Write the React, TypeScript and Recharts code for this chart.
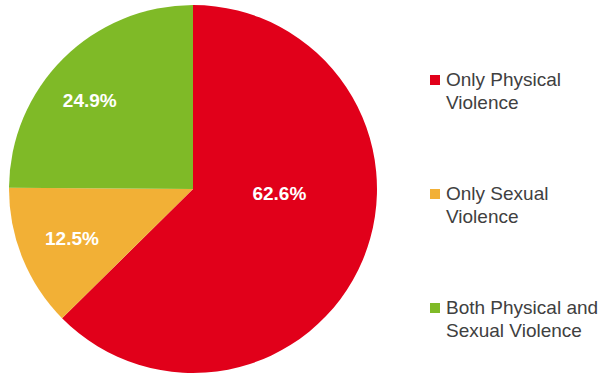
import { PieChart, Pie, Cell, Legend } from "recharts";

const NAMES = ["Only Physical Violence", "Only Sexual Violence", "Both Physical and Sexual Violence"];
const VALUES = [62.6, 12.5, 24.9];
const COLORS = ["#E1001A", "#F2B036", "#7FBA27"];
// label placement per slice: [angle in degrees (null = slice middle), fraction of radius]
const LABEL_PLACE: [number | null, number][] = [[-2.7, 0.47], [null, 0.71], [139.3, 0.74]];

const data = NAMES.map((name, i) => ({ name, value: VALUES[i] }));

const RAD = Math.PI / 180;
const FONT = "'Liberation Sans', Arial, sans-serif";

function SliceLabel(props: any) {
  const { cx, cy, midAngle, outerRadius, index, value } = props;
  const [ang, frac] = LABEL_PLACE[index];
  const a = ang ?? midAngle;
  const r = outerRadius * frac;
  const x = cx + r * Math.cos(-a * RAD);
  const y = cy + r * Math.sin(-a * RAD);
  return (
    <text x={x} y={y} fill="#fff" fontSize={19} fontWeight="bold" fontFamily={FONT}
      textAnchor="middle" dominantBaseline="central">
      {`${value.toFixed(1)}%`}
    </text>
  );
}

function SideLegend() {
  return (
    <div style={{ fontFamily: FONT, fontSize: 19, color: "#404040", lineHeight: "23px" }}>
      {data.map((d, i) => (
        <div key={d.name} style={{ display: "flex", alignItems: "flex-start", marginBottom: i < data.length - 1 ? 68 : 0 }}>
          <span style={{ width: 10, height: 10, background: COLORS[i], marginTop: 7, marginRight: 6, flex: "none" }} />
          <span style={{ width: 160 }}>{d.name}</span>
        </div>
      ))}
    </div>
  );
}

export default function App() {
  return (
    <div>
      <style>{"body{margin:0;background:#fff}"}</style>
      <PieChart width={600} height={375} margin={{ top: 0, right: 0, bottom: 0, left: 0 }}>
        <Pie
          data={data}
          dataKey="value"
          nameKey="name"
          cx={193}
          cy={189}
          outerRadius={184}
          startAngle={90}
          endAngle={-270}
          stroke="none"
          labelLine={false}
          label={SliceLabel}
          isAnimationActive={false}
        >
          {data.map((d, i) => (
            <Cell key={d.name} fill={COLORS[i]} />
          ))}
        </Pie>
        <Legend content={<SideLegend />} wrapperStyle={{ position: "absolute", left: 430, top: 68, width: 170 }} />
      </PieChart>
    </div>
  );
}
